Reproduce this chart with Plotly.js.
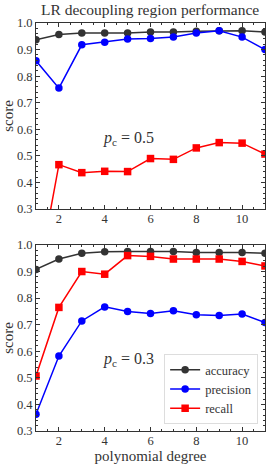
<!DOCTYPE html>
<html><head><meta charset="utf-8">
<script src="https://cdn.plot.ly/plotly-3.0.1.min.js"></script>
<style>body{margin:0;padding:0;background:#fff}#chart{width:269px;height:464px}</style>
</head><body><div id="chart"></div>
<script>
const degrees = [1,2,3,4,5,6,7,8,9,10,11];
// p_c = 0.5 (top panel)
const acc05 = [0.937,0.957,0.962,0.962,0.962,0.966,0.966,0.969,0.971,0.971,0.966];
const prec05 = [0.858,0.755,0.918,0.928,0.940,0.942,0.947,0.962,0.971,0.947,0.900];
const rec05 = [0.0,0.467,0.437,0.442,0.441,0.490,0.487,0.530,0.550,0.548,0.507];
// p_c = 0.3 (bottom panel)
const acc03 = [0.908,0.947,0.969,0.974,0.975,0.975,0.975,0.972,0.972,0.972,0.969];
const prec03 = [0.363,0.582,0.714,0.767,0.750,0.742,0.752,0.737,0.735,0.740,0.708];
const rec03 = [0.507,0.765,0.900,0.890,0.960,0.957,0.947,0.947,0.947,0.938,0.921];
const seriesNames = ['accuracy','precision','recall'];
const seriesColors = ['#333333','#0000ff','#ff0000'];
const seriesSymbols = ['circle','circle','square'];

function tr(y, i, xa, ya, show){
  return {x: degrees, y: y, type:'scatter', mode:'lines+markers', name: seriesNames[i],
    xaxis: xa, yaxis: ya, showlegend: show, cliponaxis: true,
    line:{color: seriesColors[i], width:1.5},
    marker:{color: seriesColors[i], symbol: seriesSymbols[i], size: 7.5}};
}
const data = [
  tr(acc05,0,'x','y',false), tr(prec05,1,'x','y',false), tr(rec05,2,'x','y',false),
  tr(acc03,0,'x2','y2',true), tr(prec03,1,'x2','y2',true), tr(rec03,2,'x2','y2',true)
];
const font = {family:'"Liberation Serif", serif', color:'#333', size:12.5};
function xax(anchor, title){
  return {anchor: anchor, range:[1,11], dtick:2, tick0:0, ticks:'inside', ticklen:4, tickcolor:'#333',
    showline:true, linecolor:'#333', linewidth:1, mirror:'allticks', showgrid:false, zeroline:false,
    minor:{dtick:0.5, ticks:'inside', ticklen:2, tickcolor:'#333'},
    tickfont:{size:12.5}, ticklabelstandoff:-2,
    title: title ? {text:title, font:{size:15}, standoff:0} : undefined};
}
function yax(anchor, domain){
  return {anchor: anchor, domain: domain, range:[0.3,1.0], dtick:0.1, tickformat:'.1f', ticks:'inside', ticklen:4,
    tickcolor:'#333', showline:true, linecolor:'#333', linewidth:1, mirror:'allticks', showgrid:false, zeroline:false,
    minor:{dtick:0.02, ticks:'inside', ticklen:2, tickcolor:'#333'},
    tickfont:{size:12.5}, title:{text:'score', font:{size:15}, standoff:3}};
}
const layout = {
  width:269, height:464, margin:{l:36, r:4, t:23, b:33},
  paper_bgcolor:'#fff', plot_bgcolor:'#fff', font: font,
  title:{text:'LR decoupling region performance', font:{size:15.5}, x:0.558, xanchor:'center', y:0.99, yanchor:'top'},
  xaxis: xax('y', null), yaxis: yax('x',[0.544,1]),
  xaxis2: xax('y2','polynomial degree'), yaxis2: yax('x2',[0,0.456]),
  legend:{x:0.97, xanchor:'right', y:0.017, yanchor:'bottom', bgcolor:'#fff', bordercolor:'#ddd', borderwidth:1,
    font:{size:12.5}, tracegroupgap:0, itemwidth:30},
  annotations:[
    {text:'<i>p</i><sub>c</sub> = 0.5', xref:'x', yref:'y', x:5.02, y:0.567, showarrow:false, font:{size:16}},
    {text:'<i>p</i><sub>c</sub> = 0.3', xref:'x2', yref:'y2', x:5.02, y:0.568, showarrow:false, font:{size:16}}
  ]
};
Plotly.newPlot('chart', data, layout, {displayModeBar:false, staticPlot:true});
</script></body></html>
